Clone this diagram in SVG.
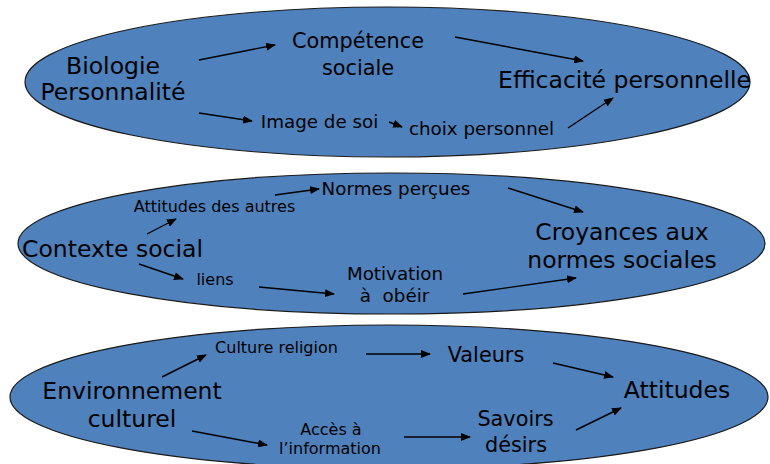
<svg xmlns="http://www.w3.org/2000/svg" width="770" height="464" viewBox="0 0 770 464">
<style>
.ell{fill:#4F81BD;stroke:#1a1a1a;stroke-width:1.2}
text{font-family:"DejaVu Sans","Verdana",sans-serif;fill:#000;text-anchor:middle}
.l{font-size:23.5px}
.m{font-size:20.8px}
.s{font-size:18.3px}
.xs{font-size:16px}
.c line{stroke:#000;stroke-width:1.4;marker-end:url(#ah)}
</style>
<defs>
<marker id="ah" markerUnits="userSpaceOnUse" markerWidth="10" markerHeight="8" refX="9" refY="4" orient="auto">
<path d="M0,0 L10,4 L0,8 Z" fill="#000"/>
</marker>
</defs>
<g id="ellipse1"><ellipse class="ell" cx="387.5" cy="82" rx="362.5" ry="75"/></g>
<g id="ellipse2"><ellipse class="ell" cx="391.5" cy="243.5" rx="373.5" ry="70.5"/></g>
<g id="ellipse3"><ellipse class="ell" cx="389" cy="397" rx="379" ry="72"/></g>

<g id="biologie"><text class="l" x="113" y="74">Biologie</text><text class="l" x="113" y="100">Personnalité</text></g>
<g id="competence"><text class="m" x="358" y="48">Compétence</text><text class="m" x="358" y="75">sociale</text></g>
<g id="efficacite"><text class="l" x="624.5" y="88">Efficacité personnelle</text></g>
<g id="image"><text class="s" x="319.5" y="128">Image de soi</text></g>
<g id="choix"><text class="s" x="481.5" y="135">choix personnel</text></g>

<g id="contexte"><text class="l" x="112.5" y="257">Contexte social</text></g>
<g id="attitudes-autres"><text class="xs" x="214.5" y="212">Attitudes des autres</text></g>
<g id="normes"><text class="s" x="396" y="195">Normes perçues</text></g>
<g id="liens"><text class="xs" x="215" y="285">liens</text></g>
<g id="motivation"><text class="s" x="395" y="280">Motivation</text><text class="s" x="394.5" y="302" xml:space="preserve">à  obéir</text></g>
<g id="croyances"><text class="l" x="622" y="240">Croyances aux</text><text class="l" x="622" y="268">normes sociales</text></g>

<g id="environnement"><text class="l" x="132" y="399">Environnement</text><text class="l" x="132" y="427">culturel</text></g>
<g id="culture"><text class="xs" x="276.5" y="353">Culture religion</text></g>
<g id="valeurs"><text class="m" x="486" y="362">Valeurs</text></g>
<g id="attitudes"><text class="l" x="677" y="398">Attitudes</text></g>
<g id="acces"><text class="xs" x="331" y="435">Accès à</text><text class="xs" x="330" y="454">l’information</text></g>
<g id="savoirs"><text class="m" x="515.5" y="426">Savoirs</text><text class="m" x="516" y="452">désirs</text></g>

<g id="connectors" class="c">
<line x1="199" y1="60" x2="275" y2="45"/>
<line x1="455" y1="37" x2="583" y2="61"/>
<line x1="199" y1="113" x2="252" y2="121"/>
<line x1="389" y1="122" x2="402" y2="127"/>
<line x1="568" y1="128" x2="613" y2="98"/>
<line x1="147" y1="234" x2="176" y2="219"/>
<line x1="275" y1="195" x2="319" y2="189"/>
<line x1="508" y1="188" x2="583" y2="212"/>
<line x1="139" y1="264" x2="183" y2="279"/>
<line x1="259" y1="287" x2="334" y2="294"/>
<line x1="463" y1="294" x2="576" y2="278"/>
<line x1="162" y1="377" x2="206" y2="355"/>
<line x1="366" y1="354" x2="430" y2="354"/>
<line x1="553" y1="363" x2="613" y2="377"/>
<line x1="192" y1="431" x2="267" y2="445"/>
<line x1="404" y1="437" x2="470" y2="437"/>
<line x1="576" y1="430" x2="621" y2="408"/>
</g>
</svg>
